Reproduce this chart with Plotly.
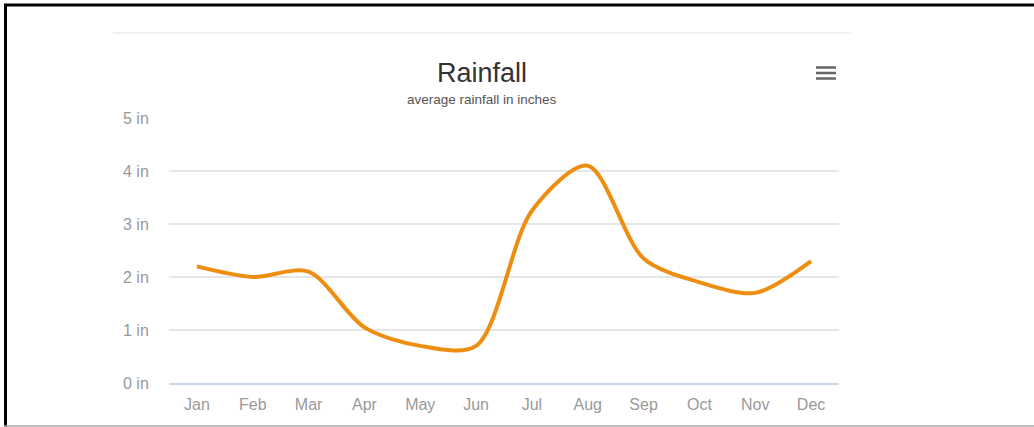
import plotly.graph_objects as go

months = ["Jan", "Feb", "Mar", "Apr", "May", "Jun", "Jul", "Aug", "Sep", "Oct", "Nov", "Dec"]
rainfall = [2.2, 2.0, 2.1, 1.05, 0.7, 0.7, 3.25, 4.1, 2.35, 1.9, 1.7, 2.3]
y_ticks = [0, 1, 2, 3, 4, 5]
y_labels = [f"{v} in" for v in y_ticks]

W, H = 1034, 427
L, R, T, B = 169, 839, 118, 383  # plot area in pixels


def px(x):
    return (x - L) / (R - L)


def py(y):
    return (B - y) / (B - T)


fig = go.Figure()
fig.add_trace(go.Scatter(
    x=months, y=rainfall, mode="lines",
    line=dict(color="#EE8E10", width=4, shape="spline", smoothing=0.85),
    hoverinfo="skip", showlegend=False,
))

shapes = []
# outer frame (screenshot border)
shapes.append(dict(type="line", xref="paper", yref="paper", x0=px(4), x1=px(W), y0=py(5), y1=py(5),
                   line=dict(color="#000", width=3), layer="above"))
shapes.append(dict(type="line", xref="paper", yref="paper", x0=px(5.5), x1=px(5.5), y0=py(4), y1=py(H),
                   line=dict(color="#000", width=3), layer="above"))
shapes.append(dict(type="line", xref="paper", yref="paper", x0=px(4), x1=px(W), y0=py(426), y1=py(426),
                   line=dict(color="#aaaaaa", width=1.5), layer="above"))
# top separator
shapes.append(dict(type="line", xref="paper", yref="paper", x0=px(113), x1=px(851), y0=py(33), y1=py(33),
                   line=dict(color="#ebebeb", width=1.5), layer="below"))
# hamburger menu icon
for yy in (67.5, 73, 78.5):
    shapes.append(dict(type="line", xref="paper", yref="paper", x0=px(816), x1=px(836), y0=py(yy), y1=py(yy),
                       line=dict(color="#666666", width=2.5), layer="above"))

annotations = [
    dict(text="Rainfall", xref="paper", yref="paper", x=px(482), y=py(73), showarrow=False,
         xanchor="center", yanchor="middle", font=dict(family="Liberation Sans, Arial", size=27, color="#333333")),
    dict(text="average rainfall in inches", xref="paper", yref="paper", x=px(482), y=py(99), showarrow=False,
         xanchor="center", yanchor="middle", font=dict(family="Liberation Sans, Arial", size=13.5, color="#555555")),
]

fig.update_layout(
    width=W, height=H,
    margin=dict(l=L, r=W - R, t=T, b=H - B, pad=0),
    paper_bgcolor="white", plot_bgcolor="white",
    font=dict(family="Liberation Sans, Arial", color="#999999"),
    shapes=shapes, annotations=annotations,
    showlegend=False,
    xaxis=dict(
        type="category", range=[-0.5, 11.5], showgrid=False, zeroline=False,
        showline=True, linecolor="#ccd6eb", linewidth=1.5,
        ticks="outside", ticklen=6, tickcolor="rgba(0,0,0,0)",
        tickfont=dict(size=16, color="#999999"), fixedrange=True,
    ),
    yaxis=dict(
        range=[0, 5], tickvals=y_ticks, ticktext=y_labels,
        showgrid=True, gridcolor="#e6e6e6", gridwidth=1.5, zeroline=False, showline=False,
        ticks="outside", ticklen=16, tickcolor="rgba(0,0,0,0)",
        tickfont=dict(size=16, color="#999999"), fixedrange=True,
    ),
)

fig.write_html("out.html", config=dict(displayModeBar=False, staticPlot=True))
